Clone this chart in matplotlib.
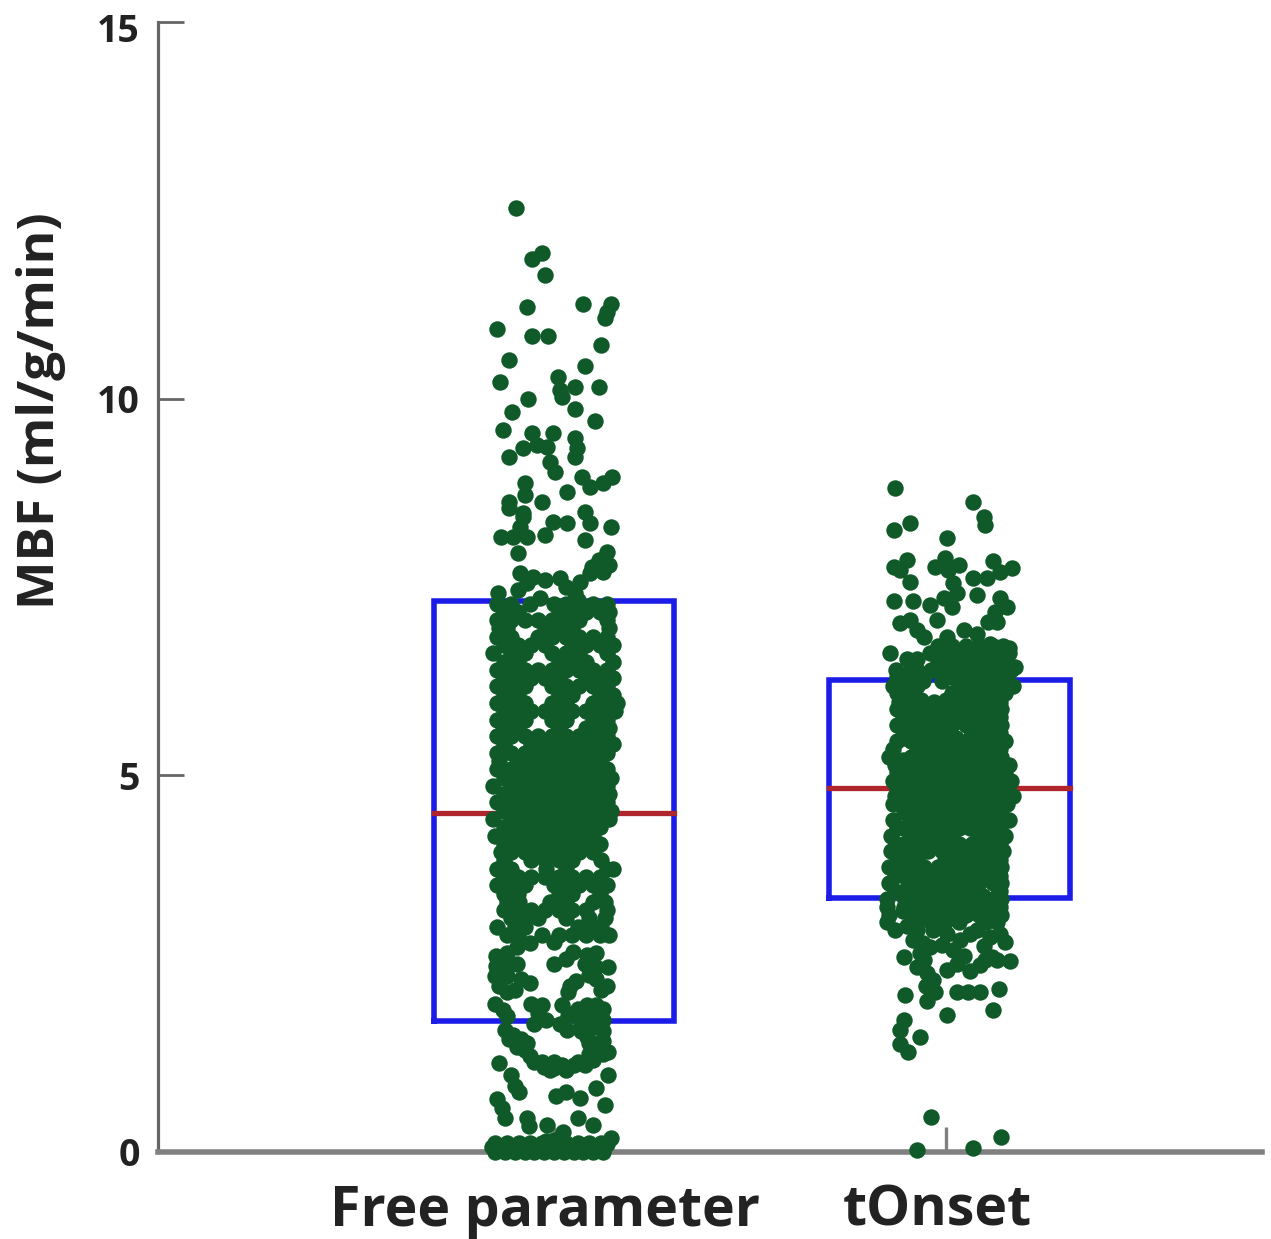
import numpy as np
import matplotlib
matplotlib.use('Agg')
import matplotlib.pyplot as plt
from matplotlib.transforms import ScaledTranslation

plt.rcParams['font.family'] = ['Open Sans', 'DejaVu Sans']

categories = ['Free parameter', 'tOnset']
y_ticks = [0, 5, 10, 15]
box_centres = [1.0, 2.009]
box_half = 0.307
q1 = [1.74, 3.37]
median = [4.50, 4.83]
q3 = [7.31, 6.27]

# sparse points: [jitter, MBF]
fp_top = [[-.096,12.53],[-.03,11.93],[-.056,11.85],[-.023,11.64],[-.068,11.22],[.073,11.26],[.146,11.26],
 [.136,11.15],[.129,11.07],[-.146,10.93],[-.056,10.83],[-.015,10.83],[.121,10.71],[-.116,10.51],[.078,10.43],
 [-.139,10.22],[.01,10.29],[.015,10.12],[.053,10.16],[.114,10.16],[.02,10.02],[-.066,10.0],[-.106,9.82],
 [.053,9.86],[.104,9.70],[-.131,9.58],[-.056,9.54],[-.003,9.54],[.053,9.48],[-.043,9.39],[-.078,9.35],
 [-.018,9.36],[.058,9.35],[.053,9.23],[-.116,9.23],[-.01,9.16],[.003,9.03],[.071,8.96],[.149,8.96],
 [.124,8.88],[.091,8.83],[-.073,8.88],[.033,8.76],[-.073,8.72],[-.116,8.63],[-.03,8.63],[-.116,8.55],
 [.078,8.50],[-.078,8.48],[-.078,8.43],[-.003,8.36],[.033,8.35],[.146,8.30],[.091,8.35],[-.086,8.30],
 [-.136,8.16],[-.104,8.16],[-.068,8.16],[-.023,8.19],[.078,8.12],[-.091,7.95],[.134,7.96],[.116,7.86],
 [.141,7.79],[.098,7.77],[.091,7.69],[.125,7.70],[-.086,7.69],[-.053,7.63],[-.023,7.59],[.015,7.62],
 [.066,7.57],[-.091,7.46],[-.144,7.42],[-.035,7.35],[.053,7.42],[.03,7.5],[-.07,7.55],[.06,7.33]]

# dense part: each row is [MBF, jitter, jitter, ...]
fp_rows = [
 [7.28,-.145,-.11,-.06,.0,.03,.065,.1,.135],
 [7.17,-.128,-.093,.012,.047,.082,.117,.14],
 [7.06,-.145,-.11,-.075,-.04,-.005,.03,.065,.135],
 [6.95,-.14,-.12,-.023,.012,.047,.14],
 [6.84,-.145,-.11,-.04,-.005,.03,.065,.1,.135],
 [6.73,-.128,-.093,-.058,-.023,.047,.082,.117,.15],
 [6.62,-.155,-.11,-.075,-.005,.03,.065,.135],
 [6.51,-.128,-.093,.012,.047,.082,.15],
 [6.40,-.145,-.11,-.075,-.04,-.005,.03,.065,.1,.135],
 [6.29,-.128,-.093,-.058,-.023,.012,.082,.117,.15],
 [6.18,-.145,-.11,-.075,-.005,.03,.065,.1,.135],
 [6.07,-.128,-.093,.012,.047,.117,.15],
 [5.96,-.145,-.11,-.075,-.005,.03,.1,.135,.16],
 [5.85,-.128,-.093,-.058,-.023,.012,.047,.082,.117,.155],
 [5.74,-.145,-.11,-.075,-.005,.03,.1,.135],
 [5.63,-.128,-.093,.012,.082,.117,.14],
 [5.52,-.145,-.11,-.075,-.04,-.005,.03,.065,.1,.135],
 [5.41,-.128,-.058,-.023,.012,.047,.082,.117,.15],
 [5.30,-.145,-.11,-.075,-.04,-.005,.03,.065,.1,.135],
 [5.19,-.14,-.093,-.058,-.023,.012,.047,.082,.117],
 [5.08,-.145,-.11,-.075,-.04,-.005,.03,.065,.1,.135],
 [4.97,-.128,-.093,-.058,-.023,.012,.047,.082,.117,.145],
 [4.86,-.155,-.11,-.075,-.04,-.005,.03,.065,.1,.135],
 [4.75,-.128,-.093,-.058,-.023,.012,.047,.082,.117,.14],
 [4.64,-.145,-.11,-.075,-.04,-.005,.03,.065,.1,.135],
 [4.53,-.128,-.093,-.058,-.023,.012,.047,.082,.117,.145],
 [4.42,-.155,-.11,-.075,-.04,-.005,.03,.065,.1,.14],
 [4.31,-.128,-.093,-.058,-.023,.012,.047,.082,.117],
 [4.20,-.15,-.11,-.075,-.04,-.005,.03,.065,.1],
 [4.09,-.128,-.093,-.058,-.023,.012,.047,.082,.117],
 [3.98,-.135,-.11,-.075,-.04,-.005,.03,.065,.1],
 [3.87,-.128,-.058,-.023,.012,.047,.12],
 [3.76,-.145,-.11,-.02,.03,.135,.15],
 [3.65,-.128,-.093,-.058,-.023,.012,.047,.082,.117],
 [3.54,-.145,-.11,-.075,.0,.03,.065,.1,.135],
 [3.43,-.128,-.093,.012,.047,.117],
 [3.32,-.12,-.09,-.01,.03,.1,.13],
 [3.21,-.128,-.093,-.058,-.023,.012,.047,.082,.135],
 [3.10,-.11,-.075,-.04,.03,.09,.13],
 [2.99,-.145,-.1,-.075,-.093,.06,.1,.12],
 [2.88,-.12,-.093,-.03,.012,.047,.082,.117,.14],
 [0.12,-.15,-.12,-.09,-.06,-.03,.03,.06,.09,.12],
 [0.0,-.15,-.125,-.1,-.075,-.05,-.025,.0,.025,.05,.075,.1,.125]]

# lower part of Free parameter
fp_low = [[-.06,2.77],[-.001,2.79],[-.094,2.72],[-.119,2.64],[-.149,2.60],[.108,2.64],[.083,2.62],[.049,2.66],
 [-.149,2.47],[-.094,2.5],[-.119,2.46],[.0,2.5],[.03,2.56],[.108,2.45],[.138,2.46],[.08,2.5],
 [-.15,2.33],[-.119,2.33],[-.085,2.3],[-.06,2.25],[.04,2.2],[.055,2.27],[.108,2.3],[.135,2.2],[.09,2.35],
 [-.14,2.2],[-.1,2.15],[-.12,2.12],[.035,2.12],[.12,2.15],
 [-.15,1.97],[-.13,1.88],[-.12,1.8],[-.058,1.96],[-.04,1.85],[-.05,1.7],[.02,1.95],[.035,1.8],[.032,1.62],
 [.083,1.95],[.108,1.95],[.125,1.75],[.1,1.66],[.125,1.6],[.083,1.53],[.125,1.48],[.104,1.35],[.138,1.33],
 [-.115,1.5],[-.094,1.4],[-.07,1.45],[-.06,1.27],[-.03,1.2],[-.01,1.09],[.03,1.09],[.0,1.2],[.05,1.15],[.08,1.15],[.1,1.22],
 [-.14,1.18],[-.11,1.02],[-.1,.87],[-.09,.8],[.138,1.02],[.108,.85],[.13,.62],[.006,.75],[.03,.8],[.066,.72],
 [-.145,.71],[-.132,.58],[-.124,.45],[-.068,.45],[-.065,.34],[-.018,.36],[.062,.45],[.1,.36],[.146,.18],[.134,.1],
 [.024,.27],[-.157,.07],[-.14,.05],[-.12,.06],[-.1,.05],[-.08,.06],[-.06,.05],[-.04,.07],[-.02,.06],[.0,.05],
 [.02,.07],[.04,.05],[.06,.05],[.08,.06],[.1,.04],[.12,.05],[.0,.16],[-.02,.14],
 [-.125,1.62],[-.105,1.55],[-.085,1.5],[-.075,1.35],[-.05,1.2],[-.025,1.13],[.0,1.12],[.02,1.15],[.06,1.2],
 [.09,1.3],[.1,1.45],[.1,1.85],[.06,1.9],[.07,1.7],[.085,1.65],[.05,1.85],[.08,1.8],[.105,1.8],[.125,1.9],
 [.07,1.6],[.09,1.45],[.125,1.3],[-.03,1.95],[-.02,1.75],[.015,1.7]]

on_top = [[-.13,8.81],[.07,8.63],[.096,8.43],[.1,8.32],[-.091,8.35],[-.134,8.26],[.002,8.15],[-.1,7.86],
 [-.134,7.77],[-.117,7.73],[-.028,7.77],[-.002,7.88],[.032,7.79],[.006,7.73],[.121,7.84],[.168,7.75],
 [.138,7.70],[.104,7.62],[.07,7.62],[-.091,7.57],[.019,7.55],[.079,7.39],[.028,7.42],[-.006,7.35],
 [-.134,7.31],[-.083,7.31],[-.04,7.26],[.015,7.24],[.138,7.35],[.155,7.24],[.125,7.17],[.108,7.04],
 [-.117,7.02],[-.091,7.06],[-.023,7.06],[-.074,6.93],[-.057,6.84],[.13,7.04],[.045,6.93],[.079,6.88],
 [.002,6.84],[-.142,6.62],[-.1,6.55],[-.074,6.55],[.16,6.69],[.176,6.44],[.113,6.75],[-.09,6.4]]

on_rows = [
 [6.72,-.02,.015,.05,.085,.12,.145],
 [6.62,-.04,-.003,.032,.067,.102,.137,.16],
 [6.51,-.02,.015,.05,.085,.12,.155],
 [6.40,-.128,-.073,-.038,-.003,.032,.067,.102,.137,.165],
 [6.30,-.125,-.09,-.055,.015,.05,.085,.12,.155],
 [6.19,-.135,-.108,-.073,.032,.067,.102,.137,.17],
 [6.09,-.125,-.09,.015,.05,.085,.12,.15],
 [5.98,-.12,-.073,-.03,-.003,.032,.067,.102,.137],
 [5.88,-.125,-.09,-.055,-.02,.015,.05,.085,.12,.14],
 [5.77,-.108,-.073,-.038,-.003,.032,.067,.102,.137],
 [5.67,-.125,-.09,-.055,-.02,.015,.05,.085,.12,.14],
 [5.56,-.108,-.073,-.038,-.003,.07,.102,.137],
 [5.46,-.125,-.09,-.055,-.02,.015,.085,.12,.15],
 [5.35,-.135,-.073,-.038,-.003,.032,.067,.102,.137],
 [5.25,-.145,-.09,-.055,-.02,.015,.05,.085,.12,.14],
 [5.14,-.13,-.073,-.038,-.003,.032,.067,.102,.137,.16],
 [5.04,-.125,-.09,-.055,-.02,.015,.05,.085,.12,.15],
 [4.93,-.135,-.108,-.073,-.038,-.003,.032,.067,.102,.137,.165],
 [4.83,-.125,-.09,-.055,-.02,.015,.05,.085,.12,.15],
 [4.72,-.13,-.108,-.073,-.038,-.003,.032,.067,.102,.137,.17],
 [4.62,-.135,-.09,-.055,-.02,.015,.05,.085,.12,.155],
 [4.51,-.108,-.073,-.038,-.003,.032,.067,.102,.137,.13],
 [4.41,-.135,-.09,-.055,-.02,.015,.05,.085,.12,.16],
 [4.30,-.125,-.108,-.073,-.003,.032,.067,.102,.137],
 [4.20,-.14,-.09,-.055,-.02,.015,.085,.12,.15],
 [4.09,-.125,-.108,-.073,-.038,-.003,.032,.067,.102,.137],
 [3.99,-.14,-.09,-.055,.015,.05,.085,.12,.145],
 [3.88,-.125,-.108,-.073,-.003,.032,.067,.102,.137],
 [3.78,-.145,-.09,-.055,-.02,.015,.05,.085,.12,.14],
 [3.67,-.13,-.108,-.073,-.038,-.003,.032,.067,.102,.137],
 [3.57,-.145,-.09,-.055,-.02,.015,.05,.085,.12,.14],
 [3.46,-.13,-.108,-.073,-.038,-.003,.032,.067,.137],
 [3.36,-.15,-.09,-.055,-.02,.015,.05,.085,.12,.14],
 [3.25,-.15,-.108,-.073,-.038,-.003,.032,.067,.102,.137],
 [3.15,-.145,-.09,-.055,-.02,.015,.05,.085,.12,.14],
 [3.05,-.15,-.073,-.038,-.003,.032,.102,.13],
 # second pass over the solid block
 [6.25,-.1,-.06,-.01,.03],
 [6.0,-.1,-.065,.0,.04,.08],
 [5.8,-.11,-.08,-.045,-.01,.025,.06,.095,.13],
 [5.5,-.11,-.08,-.045,-.01,.025,.06,.095,.13],
 [5.2,-.11,-.08,-.045,-.01,.025,.06,.095,.13],
 [4.9,-.11,-.08,-.045,-.01,.025,.06,.095,.13],
 [4.6,-.11,-.08,-.045,-.01,.025,.06,.095,.13],
 [4.3,-.11,-.08,-.045,-.01,.025,.06,.095,.13],
 [4.0,-.11,-.08,-.045,-.01,.025,.06,.095,.13],
 [3.7,-.11,-.08,-.045,-.01,.025,.06,.095,.13],
 [3.4,-.11,-.08,-.045,-.01,.025,.06,.095,.13],
 [3.2,-.11,-.08,-.045,-.01,.025,.06,.095,.13]]

on_low = [[-.13,2.95],[-.1,3.0],[-.074,2.95],[-.083,2.81],[-.032,2.95],[.002,2.90],[.036,2.81],[.019,2.68],
 [.028,2.5],[.002,2.42],[.138,2.9],[.113,2.86],[.151,2.79],[.096,2.73],[.117,2.59],[.087,2.48],[.164,2.53],
 [.062,2.4],[-.108,2.59],[-.066,2.64],[-.074,2.46],[-.049,2.37],[-.032,2.28],[-.028,2.13],[-.049,2.0],
 [-.104,2.08],[.028,2.13],[.057,2.13],[.087,2.13],[.134,2.17],[.002,1.82],[.121,1.89],[-.108,1.75],
 [-.117,1.62],[-.066,1.53],[-.117,1.44],[-.098,1.33],[-.038,.47],[-.074,.03],[.068,.05],[.141,.2],
 [-.06,2.78],[-.04,2.72],[-.01,2.75],[.06,2.9],[.08,2.95],[.045,2.6],[.1,2.55],[.13,2.55],[-.055,2.55],[-.05,2.2]]


def flatten(rows):
    pts = []
    for row in rows:
        for j in row[1:]:
            pts.append([j, row[0]])
    return pts


fig = plt.figure(figsize=(12.71, 12.39), dpi=100)
ax = fig.add_axes([158/1271, 87/1239, 1104/1271, 1130/1239])
ax.set_xlim(-0.0102, 2.806)
ax.set_ylim(0, 15)

# boxes under the dots
for c, a, m, b in zip(box_centres, q1, median, q3):
    ax.plot([c-box_half, c+box_half, c+box_half, c-box_half, c-box_half], [a, a, b, b, a],
            color='#1c1ce8', lw=4, solid_joinstyle='miter', zorder=2)
    ax.plot([c-box_half, c+box_half], [m, m], color='#b0242c', lw=3.8, zorder=2)

fp = np.array(fp_top + flatten(fp_rows) + fp_low)
on = np.array(on_top + flatten(on_rows) + on_low)
ax.scatter(box_centres[0] + fp[:, 0], fp[:, 1], s=140, color='#0f5a28', lw=0, zorder=4, clip_on=False)
ax.scatter(2 + on[:, 0], on[:, 1], s=140, color='#0f5a28', lw=0, zorder=4, clip_on=False)

ax.spines['top'].set_visible(False)
ax.spines['right'].set_visible(False)
ax.spines['left'].set_color('#666666')
ax.spines['left'].set_linewidth(2.3)
ax.spines['bottom'].set_color('#808080')
ax.spines['bottom'].set_linewidth(4)

ax.set_yticks(y_ticks)
ax.set_yticklabels([str(v) for v in y_ticks], fontsize=27, fontweight='bold', color='#222222')
ax.tick_params(axis='y', direction='in', length=19, width=2, color='#666666', pad=13)
# the top label sits a little under its tick
top_lab = ax.get_yticklabels()[-1]
top_lab.set_transform(top_lab.get_transform() + ScaledTranslation(0, -0.06, fig.dpi_scale_trans))
ax.set_xticks([1, 2])
ax.set_xticklabels(categories, fontsize=40, fontweight='bold', color='#222222')
ax.tick_params(axis='x', direction='in', length=18, width=2.4, color='#808080', pad=23)
for lab in ax.get_xticklabels():
    lab.set_transform(lab.get_transform() + ScaledTranslation(-0.09, 0, fig.dpi_scale_trans))
ax.set_ylabel('MBF (ml/g/min)', fontsize=37, fontweight='bold', color='#222222')
ax.yaxis.set_label_coords(-0.083, 0.656)

fig.savefig('out.png', dpi=100)
